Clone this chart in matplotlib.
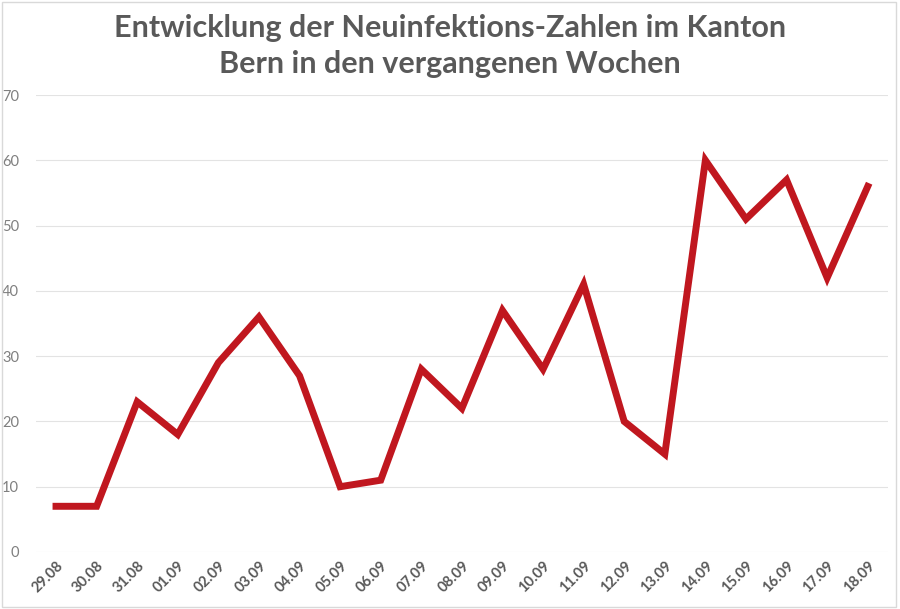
import matplotlib
matplotlib.use("Agg")
import matplotlib.pyplot as plt
from matplotlib.patches import Rectangle

dates = ["29.08", "30.08", "31.08", "01.09", "02.09", "03.09", "04.09", "05.09", "06.09", "07.09",
         "08.09", "09.09", "10.09", "11.09", "12.09", "13.09", "14.09", "15.09", "16.09", "17.09", "18.09"]
cases = [7, 7, 23, 18, 29, 36, 27, 10, 11, 28, 22, 37, 28, 41, 20, 15, 60, 51, 57, 42, 56]
yticks = [0, 10, 20, 30, 40, 50, 60, 70]
title = "Entwicklung der Neuinfektions-Zahlen im Kanton\nBern in den vergangenen Wochen"

fig = plt.figure(figsize=(9, 6.09), dpi=100)
fig.patch.set_facecolor("white")
ax = fig.add_axes([0.0397, 0.0936, 0.947, 0.7504])
x = list(range(len(dates)))
ax.plot(x, cases, color="#C0171F", linewidth=5.0, solid_joinstyle="miter", zorder=3)
ax.set_xlim(-0.5, len(dates) - 0.5)
ax.set_ylim(0, 70)
ax.set_yticks(yticks)
ax.set_yticklabels([str(v) for v in yticks], fontfamily="Lato", fontsize=10.5, color="#7f7f7f")
ax.set_xticks(x)
ax.set_xticklabels(dates, rotation=45, ha="right", va="top", rotation_mode="anchor",
                   fontfamily="Lato", fontweight="bold", fontsize=10.5, color="#595959")
ax.tick_params(axis="both", length=0)
ax.tick_params(axis="y", pad=12)
ax.tick_params(axis="x", pad=5)
for s in ax.spines.values():
    s.set_visible(False)
ax.grid(axis="y", color="#e3e3e3", linewidth=0.8)
ax.set_axisbelow(True)
fig.text(0.5, 0.977, title, ha="center", va="top", fontfamily="Lato", fontweight="bold",
         fontsize=22, color="#595959", linespacing=1.35)
fig.patches.append(Rectangle((0.002, 0.003), 0.994, 0.994, transform=fig.transFigure,
                             fill=False, edgecolor="#d9d9d9", linewidth=1.0))
fig.savefig("out.png", dpi=100)
